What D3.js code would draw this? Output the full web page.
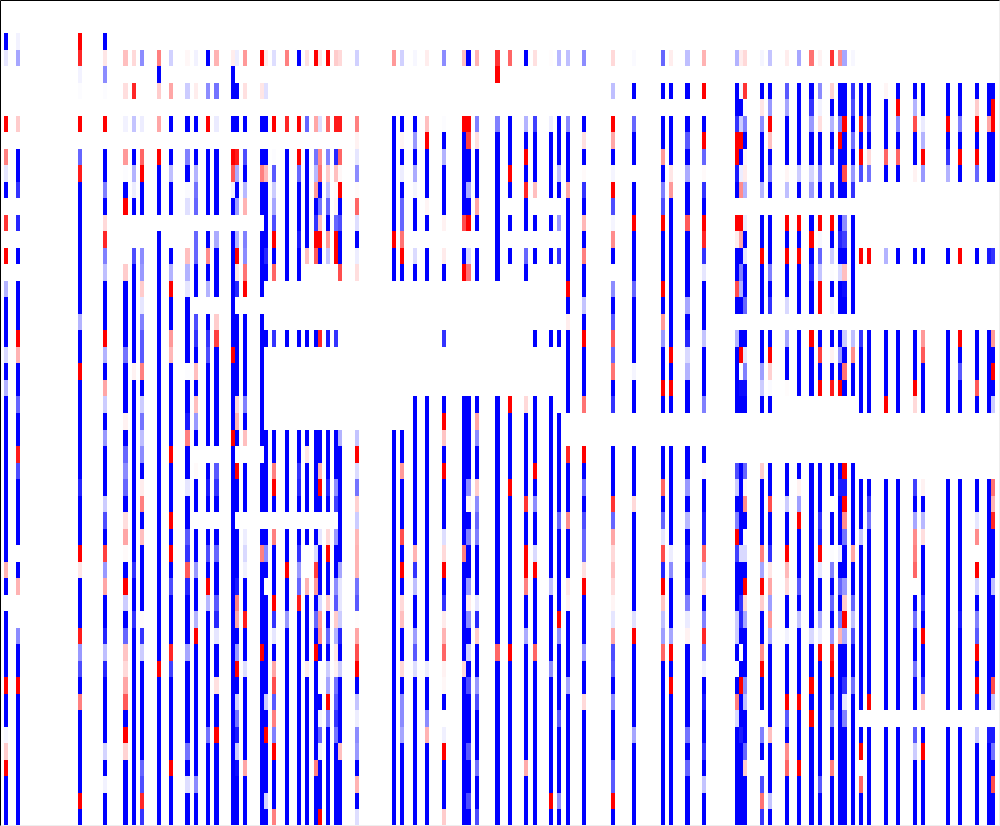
<!DOCTYPE html>
<html>
<head>
<meta charset="utf-8">
<script src="https://cdn.jsdelivr.net/npm/d3@7"></script>
<style>
    html, body { margin: 0; padding: 0; background: #fff; }
    svg { display: block; }
</style>
</head>
<body>
<script>
// heatmap has 242 columns and 50 rows, most columns are empty
const columnCount = 242
const rowCount = 50

// index of the columns that hold something
const columnIndex = [1,4,19,25,30,32,34,38,41,45,47,50,52,56,57,59,63,64,66,69,72,74,76,77,79,81,82,86,95,97,100,103,107,112,113,115,120,123,127,129,133,135,137,141,148,153,160,162,166,170,178,179,180,184,186,190,193,196,198,201,203,204,206,208,210,214,217,221,223,229,232,236,239,240]

// values per column, top row first. -10 = red, 0 = white, 10 = blue
const columnValues = [
[0,0,10,1,0,0,0,-10,0,-5, 1,10,0,-8,0,-10,0,3,10,10, 10,1.5,10,3,10,10,10,10,10,10, 10,10,10,10,-3,10,0,10,10,10, 10,-10,10,10,.3,-2,-10,10,10,10],
[0,0,.5,3.5,0,0,0,-2,0,10, 10,8,0,8.5,0,10,0,10,10,10, -10,-3,10,10,6,10,10,-9,7,10, 10,10,10,0,10,-3,0,0,4.5,10, 10,-10,10,10,10,10,10,10,10,10],
[0,0,-10,-8.5,.5,.1,0,-10,0,6, -9,10,10,10,10,10,10,10,10,3, 10,10,-10,10,10,10,10,10,10,8.5, 10,10,10,-10,-1,10,10,10,-9,4, 7,10,-5,10,10,10,10,10,-10,10],
[0,0,10,-1,4.5,.1,0,-10,0,10, 10,5,10,-1.5,-8.5,5,2.5,10,10,10, -10,3,10,-3.5,2,10,4,10,10,10, 2,7,10,-7.5,4,-3.5,10,10,8.5,2.5, 8.5,10,10,10,10,1.7,10,.5,10,10],
[0,0,0,-2.5,0,-1.3,0,.5,0,-4, .1,10,-10,0,0,0,-2,10,10,10, 10,5.5,10,10,10,-.5,10,6,4.5,6, 10,-1.3,-3.5,-.2,10,-10,2,10,6,-2.3, -1.5,-3.5,-6.5,10,-10,-1.7,10,10,10,10],
[0,0,0,-1.5,0,-8.5,0,2.3,0,10, 3,.7,10,0,0,7,10,10,10,10, 10,10,-.5,10,10,10,10,10,10,10, 10,10,10,10,8,10,10,8,10,10, 10,10,10,10,10,10,10,10,10,10],
[0,0,0,4.5,0,0,0,.7,0,-6, -10,10,10,0,0,4.5,4,-2,1,5, 6.5,6.5,-5,10,2,5.5,2.5,4.5,10,-.7, -5,10,-2.5,10,10,10,10,-.1,8,2, 10,10,10,10,10,10,6,7,-8.5,8],
[0,0,0,-5,10,-2,0,-3.5,0,-10, 10,10,10,0,10,10,10,10,10,10, 10,10,10,10,10,10,10,10,10,10, 10,10,10,10,10,10,10,10,10,10, -10,10,10,10,10,10,10,10,10,10],
[0,0,0,1.8,0,-3.5,0,10,0,10, 2.5,10,10,0,0,10,3,-10,10,10, -4,-2.8,10,10,10,10,10,-10,10,10, 10,-10,10,-10,10,7,10,10,10,-8.5, 7.5,10,10,10,10,10,-10,10,10,10],
[0,0,0,-.3,0,2,0,10,0,5, 10,.2,1.2,0,0,-2.5,3,1,10,10, 10,10,.1,10,10,9,-5,10,10,1, 10,10,6.5,8,-6.5,8.5,10,10,10,3.5, 10,10,10,10,10,5.5,10,1.3,10,10],
[0,0,0,.5,0,-.7,0,10,0,10, 3,5.5,6,0,6,6,10,10,0,7, 8,10,-2.5,10,-2.5,4,10,0,-.2,10, 10,0,10,10,4,10,10,3,-10,10, 10,10,10,10,10,10,10,4.5,10,10],
[0,0,0,10,0,4.5,0,-10,0,10, 10,10,10,0,10,-4.5,10,3,0,10, 8,7,10,10,10,10,10,0,10,9, 10,0,10,7,10,-10,2.8,10,10,10, 10,10,10,10,5.5,10,10,10,10,10],
[0,0,0,-3,0,5.5,0,.8,0,10, 10,10,10,0,3.3,10,10,10,0,-2, -7.5,10,10,10,10,10,10,0,6.5,8, 10,0,10,6,10,10,6.5,8.5,1,10, 10,-1.2,10,10,-10,10,10,10,10,10],
[0,0,0,-.7,10,10,0,10,0,-10, -6.5,.5,10,0,10,10,10,10,10,10, 10,-10,10,10,10,10,-10,10,10,10, 10,10,10,10,10,10,10,10,10,10, 10,10,10,10,10,10,10,10,10,10],
[0,0,0,.7,0,10,0,10,0,-9, 3.3,10,3.8,0,3,-10,-1,8.5,0,10, 10,10,10,10,-1.5,-3,10,0,-10,10, 10,0,10,10,10,9,-5,-3.5,10,4, -10,10,1.8,5.5,9,2,9.5,10,10,10],
[0,0,0,-4,0,-1.2,0,10,0,7, 10,2.8,-3,0,5,4.5,-5.5,-10,0,10, 10,10,10,10,5,10,-2.5,0,10,10, 10,0,.7,1.5,.6,10,10,-9,10,10, 1.3,10,10,10,10,10,-3.5,10,10,10],
[0,0,0,-10,0,-1,0,10,0,10, -5,10,10,0,10,10,10,10,0,10, 10,10,10,10,10,10,10,0,10,10, 10,0,10,-5,10,10,10,10,10,-10, 10,10,10,10,10,10,10,10,10,10],
[0,0,0,-.7,0,1.2,0,10,0,10, -2.7,10,10,10,10,8.5,10,0,0,0, 10,0,0,0,0,0,10,10,10,10, 10,0,10,4.5,10,0,10,10,10,10, 10,10,2,10,-10,10,10,10,1.7,10],
[0,0,0,1.3,0,0,0,-10,0,.1, 6.5,2,3.5,7,-10,10,-6,0,0,0, 8,0,0,0,0,0,10,10,-5,-10, 10,0,-5,10,10,10,-10,8,1,10, -3.5,-7,6.5,-5,5,-10,10,10,10,-5],
[0,0,0,-5,0,0,0,-8.5,0,10, 10,10,10,10,10,10,10,0,0,0, 10,0,0,0,0,0,10,10,10,10, 10,0,10,10,-10,10,10,4,10,10, 10,10,10,10,10,10,10,10,10,10],
[0,0,0,10,0,0,0,-10,0,-10, 6,10,10,10,9,10,10,0,0,0, 10,0,0,0,0,0,10,10,8,8.5, 10,0,10,8,4,6,-9,10,10,10, 10,10,10,10,10,10,10,10,10,10],
[0,0,0,-1.2,0,0,0,6,0,10, 10,10,10,10,10,-2.5,0,0,0,0, 10,0,0,0,0,0,10,-1,10,10, 10,0,10,0,0,-3,10,10,10,10, -.7,10,10,10,10,10,10,10,10,10],
[0,0,0,-10,0,0,0,-3.5,0,5.5, 2.8,-4,10,8,-10,-6.5,0,0,0,0, 10,0,0,0,0,0,10,10,10,10, 10,0,10,1.5,-7.5,-4,10,6,10,-10, 10,10,10,10,10,10,-5,10,10,10],
[0,0,0,-1,0,0,0,1.3,0,-4.5, -5.5,10,5.5,-2.5,-10,10,0,0,0,0, -8.5,0,0,0,0,0,10,10,-3,-10, 10,0,1,10,10,10,1.5,-4,-4.5,10, 0,0,10,.5,6,.7,10,10,10,-10],
[0,0,0,-10,0,0,0,-6,0,5, -2,2.5,6,10,-4,2.3,0,0,0,0, 9,0,0,0,0,0,10,10,10,8.5, 10,0,-1.5,-10,10,10,-2,10,6,10, 2,3.5,-10,5,10,10,10,10,10,10],
[0,0,0,-2,0,0,0,-9,0,8.5, -2.5,-.2,-.4,6,-10,-10,0,0,0,0, 8,0,0,0,0,0,10,10,10,4.5, 7.5,0,4,10,10,4.5,6.5,-2,3,-1, -.5,5.5,6.5,8,5.5,10,10,10,10,10],
[0,0,0,-1.5,0,0,0,-9,0,-6, -.3,-10,10,7,10,10,-7,0,0,0, 0,0,0,0,0,0,3,10,10,10, 10,10,10,10,3.5,1,1,2,8.5,10, 2,10,10,10,10,-2.5,10,10,10,10],
[0,0,0,1.8,0,0,0,-5,-.5,1, 4.5,-.2,-6,1.3,10,.7,-1.3,0,0,0, 0,0,0,0,0,0,2.3,-10,1.4,5.5, -1.8,2,-2.8,-3,-3,5.5,6.5,-.1,-3.5,-7, -10,10,2.3,.7,4.5,4,10,-3,10,1.3],
[0,0,0,-4,0,0,0,10,10,10, 10,10,10,10,-10,10,10,0,0,0, 0,0,0,0,0,0,10,10,10,10, 10,10,10,10,10,10,10,10,10,10, 10,10,10,10,10,10,10,10,10,10],
[0,0,0,1.8,0,0,0,10,-.4,10, .7,10,6,6,-5.5,-10,10,0,0,0, 0,0,0,0,0,0,10,10,-4,10, 10,10,-7,10,-10,10,-1.5,-2.5,10,10, -1.5,10,4.5,4.5,3.5,10,10,10,10,10],
[0,0,0,.3,0,0,0,10,4,10, 3.3,.4,10,10,0,1.4,10,0,0,0, 0,0,0,0,10,10,10,10,10,10, 10,10,10,-3,8,2.5,10,10,3.8,6.5, 1.3,10,10,10,10,10,10,10,10,10],
[0,0,0,-.7,0,0,0,-2.5,-10,10, 10,10,-.4,10,0,10,10,0,0,0, 0,0,0,0,10,10,10,10,10,10, 10,10,10,10,10,10,10,10,10,10, .7,10,10,4.5,-3,10,10,10,10,10],
[0,0,0,4.5,0,0,0,.1,10,3, 10,10,10,-.5,0,-.8,10,0,0,0, 8,0,0,0,10,-10,-2.3,10,-10,10, 10,10,1.3,-1.5,-10,10,8,-.8,-3,-6, -.5,-.3,10,0,.6,-10,10,10,10,-2],
[0,0,0,-2.5,0,0,0,-10,10,10, 10,10,10,-7,0,10,-10,0,0,0, 0,0,0,0,10,10,10,10,10,10, 10,10,10,-5,10,10,10,10,10,10, -1.5,10,10,10,10,10,10,10,10,10],
[0,0,0,10,0,0,0,-10,-7.5,10, 10,3.3,10,-10,0,1.5,-5.5,0,0,0, 0,0,0,0,10,10,10,10,10,4.5, -.4,10,5,10,10,4,-.8,4.5,10,1.8, 10,7,10,10,10,6.5,10,10,7,10],
[0,0,0,-3,0,0,0,5,-1.2,10, 10,10,-3.5,10,0,10,10,0,0,0, 0,0,0,0,10,-3.5,4.5,10,10,-2, 4.5,6,5,10,10,10,1,8.5,-2,10, 10,4,7,10,10,10,5.5,10,10,7],
[0,0,0,-8,-10,0,0,5,10,10, 10,10,10,10,10,10,10,0,0,0, 0,0,0,0,10,10,10,10,10,10, 10,10,10,10,10,10,10,10,10,-6, 10,10,10,10,10,10,10,10,10,10],
[0,0,0,-6,0,0,0,10,10,10, -10,10,0,10,0,10,0,0,0,0, 0,0,0,0,-10,10,10,10,10,-10, 10,10,10,10,10,10,10,10,10,-10, 10,10,10,10,10,10,10,10,10,10],
[0,0,0,10,0,0,0,3,10,-10, 10,-8.5,10,10,0,6,10,0,0,0, 0,0,0,0,-1.5,10,10,10,10,10, -8,10,10,-10,-10,-5,10,10,3.3,10, 10,10,10,10,10,10,-3.3,10,10,10],
[0,0,0,-1.2,0,0,0,7.5,10,10, 10,-2.5,0,10,0,10,0,0,0,0, 10,0,0,0,10,10,10,10,-10,10, 4.5,10,10,1.5,-10,10,10,10,10,-6, 10,10,10,10,10,10,10,10,10,10],
[0,0,0,-.1,0,0,0,.7,10,10, 10,10,0,10,0,10,0,0,0,0, 10,0,0,0,10,10,10,10,10,10, 10,10,10,10,10,2.5,10,10,10,10, 4.5,10,10,10,10,10,10,10,-10,10],
[0,0,0,2.8,0,0,0,10,10,10, 2.5,10,0,4,0,8,0,0,0,0, 10,0,0,0,0,10,10,10,10,10, 10,6,10,10,10,10,10,-10,4.5,10, 10,10,10,6.5,10,10,10,10,4.5,10],
[0,0,0,2.5,0,0,0,4.5,10,10, 10,-3.5,10,10,10,10,10,-10,10,-.7, 10,10,10,10,10,0,0,-8.5,10,10, 10,-4.5,10,10,10,-1,-.5,10,10,10, 10,3.5,10,10,10,10,10,10,10,10],
[0,0,0,4.5,0,0,0,10,-1.2,10, -.2,8,10,-2.8,10,-5,10,10,2.3,10, -10,10,10,10,-5.5,0,0,-10,10,5.5, 10,7,6,6,-1.2,-10,10,10,10,3.8, 10,10,-1.5,10,10,10,10,10,10,10],
[0,0,0,-1.5,0,2.5,0,-10,-3.5,10, .4,-10,7,.4,-4.5,10,0,4.5,10,6.5, -6.5,6,-5.5,10,8,0,0,10,10,10, -8,6,-3.5,-1.5,-2.5,-1.5,-.4,1,-3.5,7, 6.5,10,4.5,10,10,10,6.5,6.5,-10,10],
[0,0,0,.2,0,10,0,6,10,10, 0,10,10,-10,10,10,10,6,10,10, 10,10,.4,10,10,0,0,10,10,10, -1.5,10,10,10,10,10,10,1.2,-10,10, 10,10,10,10,3.5,10,10,10,10,10],
[0,0,0,6,0,10,0,10,10,-4, 10,5,7,-10,10,10,10,-10,10,-4, 4,10,10,-10,10,0,0,10,10,-6, 10,6,1,-7,8.5,-10,-2.3,2.5,3.8,-6, 10,10,10,10,10,10,10,10,10,10],
[0,0,0,-.7,0,10,0,10,10,10, -1,-4,10,10,10,10,10,10,10,10, 10,-10,10,-10,10,0,0,10,10,10, 10,10,10,.7,4.5,10,10,10,3.5,-10, 10,-10,10,10,10,10,10,10,10,10],
[0,0,0,2.5,0,10,0,10,6.5,10, 3.3,10,10,-6.5,10,10,10,10,3.5,10, 8.5,1.5,3,10,10,0,0,10,10,4, 10,2.8,10,8.5,10,9,5,.8,-.5,10, 10,10,10,10,5.5,10,6,10,10,10],
[0,0,0,-3,0,-10,0,10,-10,6, -.2,8,10,-10,-8.5,8,1,10,10,10, 2.3,10,10,10,5,0,0,10,-.2,10, 10,9,9,-6,2.5,-1.5,10,5,-8.5,6, .5,10,9,10,10,8,10,2.3,10,10],
[0,0,0,3,0,10,10,8,-10,-10, 9,10,0,-10,-.7,10,10,-7,10,0, 3,10,10,10,10,0,0,0,7,2, 10,5,-10,7.5,10,10,10,2,2,10, .1,10,-5,1.5,10,10,10,10,10,10],
[0,0,0,-.7,0,.3,10,2,-10,10, .7,-4.5,0,-10,-3.5,10,5,3,10,0, 10,-10,0,9.5,10,0,0,0,10,10, 10,10,10,1.5,10,10,8,8.5,10,0, 10,-10,10,10,9,10,10,10,10,10],
[0,0,0,-1.5,0,-8,.1,5,10,-.3, -.8,3,0,.7,10,1,10,10,6,0, 10,1,5,9.5,10,0,0,0,6,-.3, -4.5,10,-.1,1.5,10,-10,-1.5,3.5,10,10, 10,4.5,2.5,10,10,6,-2,10,10,10],
[0,0,0,.4,0,10,-1,4.5,10,10, 10,3,0,10,10,-10,10,10,10,0, 10,10,3.8,2,10,0,0,0,-2,10, 10,10,10,-5,3.5,-10,-2,10,10,-4.5, -10,10,10,0,5,10,0,7,-5.5,8],
[0,0,0,2.3,0,10,4,-10,-2.5,10, 5,10,0,10,10,10,5,10,8,0, 10,-10,-1.8,.2,10,0,0,0,10,10, -7,10,10,8,-1,-3.5,3.8,-4,3,10, 10,10,10,10,-2.5,10,10,10,2.3,10],
[0,0,0,-.7,0,6.5,3.5,10,10,10, -.4,2.5,0,-10,10,-10,10,10,1.5,0, 3.5,10,10,-.1,0,0,0,0,10,10, 2,10,10,-10,-2.8,-1.5,10,10,.5,10, 10,10,-10,6.5,10,-4.5,-6,10,10,10],
[0,0,0,3.5,0,10,10,10,10,10, 2,10,0,-10,10,-10,10,10,10,0, 10,10,10,10,0,0,0,0,10,-.5, 3.8,-10,10,10,10,6.5,10,2.3,10,10, 10,10,-10,10,10,10,-10,10,10,10],
[0,0,0,-5.5,0,10,8,4,10,10, 1.7,4,0,10,-10,10,8.5,10,10,0, -10,10,10,10,0,0,0,0,10,10, 10,10,10,10,10,10,10,10,1.5,10, 10,-10,10,-10,10,10,10,10,10,10],
[0,0,0,-.5,0,4.5,.5,-1.3,10,10, 4.5,10,0,-10,.3,6,2.3,-10,-10,0, 10,-7.5,10,-10,0,0,0,0,10,10, 10,8,9,-10,1,10,10,3.3,.7,-10, 10,10,10,10,10,10,10,6.5,10,10],
[0,0,0,-8,0,-1.8,10,3,10,8, 0,8,0,-10,10,2,.1,10,.5,0, 10,-.5,10,-9,0,0,0,0,10,10, 0,10,10,.1,5,10,6,10,4,-9, -10,10,8,5,10,10,-5,10,10,10],
[0,0,0,-4.5,0,10,10,5,-10,10, 10,10,0,10,8.5,10,1.5,10,10,0, 10,4,10,-10,0,0,0,0,10,9, 10,10,10,.7,10,6,10,5.5,-3,10, 10,10,10,10,10,10,10,10,10,10],
[0,0,0,3.5,0,10,10,-10,10,10, -7,10,0,4.5,7.5,10,-2.5,9.5,10,0, 2,10,-5.5,10,0,0,0,0,-10,9, -10,-4.5,5.5,10,10,4,-2,-10,3.3,10, 10,8,1,5,10,10,10,10,10,10],
[0,0,0,.3,0,8,7,10,5.5,10, 4,8,0,10,10,10,10,10,10,0, 2.5,-4.5,10,10,0,0,0,0,10,10, 10,10,10,-3.5,10,10,6,2.5,7,10, 10,5.5,10,10,10,10,10,10,10,10],
[0,0,0,0,0,10,10,-9,10,-10, 7,0,0,0,0,-10,0,0,0,0, 8,10,10,10,10,0,0,0,0,10, 10,10,2.3,10,10,10,10,10,10,10, 10,10,10,0,10,-10,.1,-6,10,10],
[0,0,0,0,0,10,10,7.5,10,-1.5, 5.5,0,0,0,0,-10,0,0,0,0, 10,10,10,10,10,0,0,0,0,10, 8,5.5,10,10,10,10,10,10,10,10, 10,10,-10,0,10,10,10,10,10,10],
[0,0,0,0,0,-.4,10,10,10,-6, 10,0,0,0,0,3,0,0,0,0, 10,10,10,10,-10,0,0,0,0,10, 10,10,10,10,10,10,10,10,10,10, 10,10,10,0,10,10,10,10,10,10],
[0,0,0,0,0,10,-10,4.5,10,-6, 10,0,0,0,0,10,0,0,0,0, 10,10,10,10,10,0,0,0,0,10, 10,10,10,10,10,10,10,10,10,10, 10,10,10,0,10,10,10,10,10,10],
[0,0,0,0,0,10,3,-7,10,10, -.5,0,0,0,0,10,0,0,0,0, 10,10,10,-10,-1.5,0,0,0,0,7.5, 10,3.5,-4.5,-5,-6,0,10,5.5,10,10, 5.5,10,10,0,6.5,2,10,10,10,10],
[0,0,0,0,0,10,10,.8,3,-10, 4,0,0,0,0,10,0,0,0,0, -4,-6.5,10,10,10,0,0,0,0,-.5, 10,2.8,-1.3,10,10,10,8,10,-10,10, 10,8,-2.5,0,10,-10,10,10,10,10],
[0,0,0,0,0,10,10,-10,10,8, 3,0,0,0,0,10,0,0,0,0, 10,10,10,10,10,0,0,0,0,10, 10,10,10,10,10,10,10,10,10,10, 10,10,10,0,10,10,10,10,10,10],
[0,0,0,0,0,10,10,5,10,-10, 10,0,0,0,0,-10,0,0,0,0, -10,10,6.5,10,10,0,0,0,0,10, 10,10,10,10,10,10,10,9,10,10, 10,10,10,0,10,10,10,10,10,10],
[0,0,0,0,0,10,-2,-10,10,-10, 6,0,0,0,0,10,0,0,0,0, 10,10,10,-6.5,10,0,0,0,0,10, 10,1,-4.5,0,-10,1.8,10,5,6.5,-10, 10,-10,9,0,2,10,10,10,10,10],
[0,0,0,0,0,10,10,-3.5,10,10, 10,0,0,0,0,9,0,0,0,0, 10,10,10,10,10,0,0,0,0,10, 10,10,10,10,10,10,10,10,10,10, 10,10,10,0,9,10,10,10,10,10],
[0,0,0,0,0,10,-10,-10,10,10, 10,0,0,0,0,8,0,0,0,0, -4,10,-10,10,2,0,0,0,0,-5.5, -3,-8.5,10,10,10,2.5,10,10,10,10, 10,-7,2.5,0,9,5.5,10,-7,10,10]
]

function main() {
    let cells = makeCells()
    drawHeatmap(cells)
}

// flatten the column arrays into one list of cells
function makeCells() {
    let cells = []
    columnIndex.forEach((col, i) => {
        columnValues[i].forEach((value, row) => {
            if (value != 0) {
                cells.push({ col, row, value })
            }
        })
    })
    return cells
}

function drawHeatmap(cells) {
    const width = 1000
    const height = 826

    // the -0.5 makes crisp edges snap down like the original image does
    var x = d3.scaleBand().domain(d3.range(columnCount)).range([-0.5, width - 0.5])
    var y = d3.scaleBand().domain(d3.range(rowCount)).range([0, height])
    var color = d3.scaleLinear().domain([-10, 0, 10]).range(["#ff0000", "#ffffff", "#0000ff"])

    var svg = d3.select("body").append("svg")
        .attr("width", width)
        .attr("height", height)

    svg.append("g")
        .attr("shape-rendering", "crispEdges")
        .selectAll("rect")
        .data(cells)
        .enter().append("rect")
        .attr("x", d => x(d.col))
        .attr("y", d => y(d.row))
        .attr("width", x.bandwidth())
        .attr("height", y.bandwidth())
        .attr("fill", d => color(d.value))

    // black on top and left, light grey on the other two sides
    // d3 axis already adds 0.5 to the line
    var xFrame = d3.scaleLinear().domain([0, 1]).range([0, width])
    var yFrame = d3.scaleLinear().domain([0, 1]).range([0, height])

    svg.append("g")
        .call(d3.axisBottom(xFrame).tickValues([]).tickSize(0).tickSizeOuter(0))
        .select(".domain").attr("stroke", "#000")
    svg.append("g")
        .call(d3.axisRight(yFrame).tickValues([]).tickSize(0).tickSizeOuter(0))
        .select(".domain").attr("stroke", "#000")
    svg.append("g").attr("transform", "translate(0," + (height - 1) + ")")
        .call(d3.axisBottom(xFrame).tickValues([]).tickSize(0).tickSizeOuter(0))
        .select(".domain").attr("stroke", "#eee")
    svg.append("g").attr("transform", "translate(" + (width - 1) + ",0)")
        .call(d3.axisRight(yFrame).tickValues([]).tickSize(0).tickSizeOuter(0))
        .select(".domain").attr("stroke", "#eee")
}

main();
</script>
</body>
</html>
